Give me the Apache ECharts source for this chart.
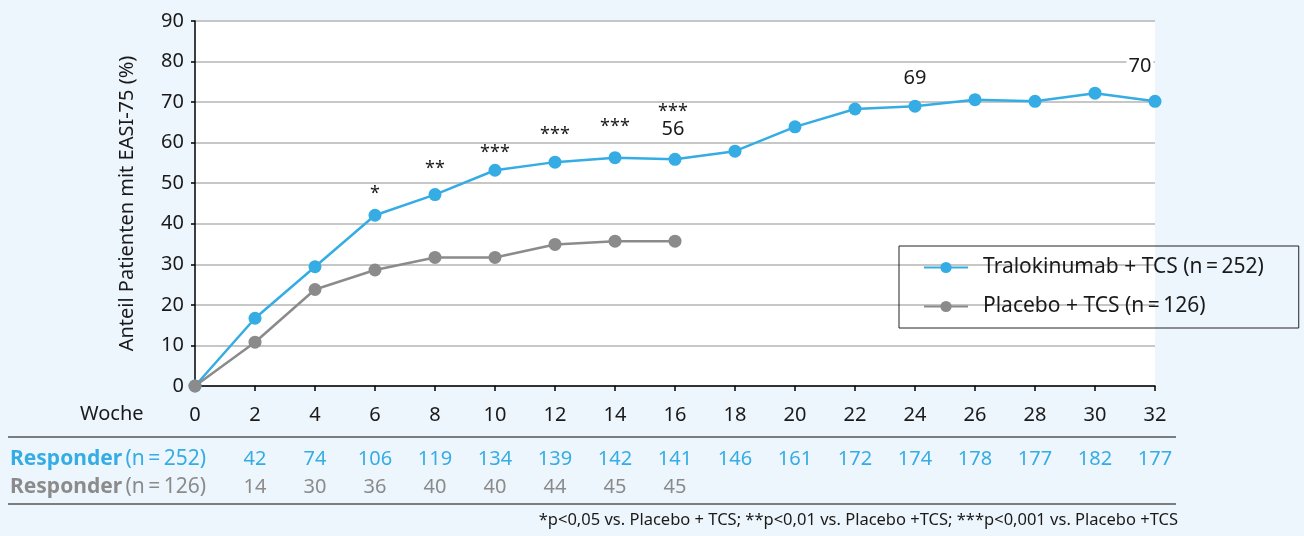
<!DOCTYPE html>
<html>
<head>
<meta charset="utf-8">
<script src="https://cdn.jsdelivr.net/npm/echarts@6/dist/echarts.min.js"></script>
<style>
  html, body { margin: 0; padding: 0; background: #eef6fd; }
  #chart { width: 1304px; height: 536px; }
</style>
</head>
<body>
<div id="chart"></div>
<script>
// Study weeks on the x axis
const weeks = [0, 2, 4, 6, 8, 10, 12, 14, 16, 18, 20, 22, 24, 26, 28, 30, 32];

// Share of patients reaching EASI-75 (%)
const traloPct   = [0, 16.7, 29.4, 42.1, 47.2, 53.2, 55.2, 56.3, 55.9, 57.9, 63.9, 68.3, 69.0, 70.6, 70.2, 72.2, 70.2];
const placeboPct = [0, 10.8, 23.8, 28.6, 31.7, 31.7, 34.9, 35.7, 35.7];

// Number of responders per week
const traloResponders   = [null, 42, 74, 106, 119, 134, 139, 142, 141, 146, 161, 172, 174, 178, 177, 182, 177];
const placeboResponders = [null, 14, 30, 36, 40, 40, 44, 45, 45];

// Significance markers and value callouts on the Tralokinumab line
const significance = ['', '', '', '*', '**', '***', '***', '***', '***', '', '', '', '', '', '', '', ''];
const valueCallouts = ['', '', '', '', '', '', '', '', '56', '', '', '', '69', '', '', '', '70'];

const yTicks = [0, 10, 20, 30, 40, 50, 60, 70, 80, 90];

const seriesNames = ['Tralokinumab + TCS (n\u2009=\u2009252)', 'Placebo + TCS (n\u2009=\u2009126)'];
const footnote = '*p<0,05 vs. Placebo + TCS; **p<0,01 vs. Placebo +TCS; ***p<0,001 vs. Placebo +TCS';

const BLUE = '#35ade4';
const GRAY = '#8b8b8b';
const INK = '#1a1a1a';
const FONT = 'Noto Sans';

// label placement (pixels, relative to the marker) for annotated weeks
const calloutOffsets = {
  6: [0, -15], 8: [0, -19], 10: [0, -11], 12: [0, -21], 14: [0, -24],
  16: [-2, -30], 24: [0, -21], 32: [-15, -29]
};

function traloItem(i) {
  const item = { value: [weeks[i], traloPct[i]] };
  const stars = significance[i];
  const num = valueCallouts[i];
  if (stars || num) {
    let text;
    if (stars && num) text = '{s|' + stars + '}\n{n|' + num + '}';
    else if (stars) text = '{s|' + stars + '}';
    else text = '{n|' + num + '}';
    const off = calloutOffsets[weeks[i]] || [0, -16];
    item.label = {
      show: true,
      position: 'top',
      distance: 0,
      verticalAlign: 'middle',
      offset: off,
      formatter: () => text,
      backgroundColor: weeks[i] === 32 ? '#ffffff' : 'transparent',
      padding: weeks[i] === 32 ? [0, 2, 0, 2] : 0,
      rich: {
        s: { fontFamily: FONT, fontSize: 18, color: INK, lineHeight: 14, align: 'center' },
        n: { fontFamily: FONT, fontSize: 20, color: INK, lineHeight: 22, align: 'center' }
      }
    };
  }
  return item;
}

function countFormatter(counts) {
  return function (v) {
    const i = weeks.indexOf(v);
    return i >= 0 && counts[i] != null ? String(counts[i]) : '';
  };
}

const tableAxis = (offset, counts, color) => ({
  type: 'value', gridIndex: 0, position: 'bottom', offset: offset,
  min: 0, max: 32, interval: 2,
  axisLine: { show: false }, axisTick: { show: false }, splitLine: { show: false },
  axisLabel: {
    margin: 18, fontFamily: FONT, fontSize: 20, color: color,
    formatter: countFormatter(counts)
  }
});

const chart = echarts.init(document.getElementById('chart'), null, { renderer: 'canvas' });

chart.setOption({
  backgroundColor: '#eef6fd',
  animation: false,
  textStyle: { fontFamily: FONT },
  grid: {
    left: 195, right: 149, top: 21, bottom: 150,
    show: true, backgroundColor: '#ffffff', borderWidth: 0
  },
  legend: {
    orient: 'vertical',
    left: 899, top: 246,
    padding: [11, 35, 11, 24],
    itemWidth: 44, itemHeight: 14, itemGap: 18,
    borderColor: '#222', borderWidth: 1,
    backgroundColor: 'transparent',
    textStyle: { fontFamily: FONT, fontSize: 21, color: INK, padding: [0, 0, 0, 10] },
    data: seriesNames
  },
  xAxis: [
    {
      type: 'value', min: 0, max: 32, interval: 2,
      axisLine: { show: true, lineStyle: { color: '#000', width: 1.5 } },
      axisTick: { show: true, length: 5, lineStyle: { color: '#000', width: 1.5 } },
      splitLine: { show: false },
      axisLabel: { margin: 19, fontFamily: FONT, fontSize: 20, color: INK }
    },
    tableAxis(45, traloResponders, BLUE),
    tableAxis(73, placeboResponders, GRAY)
  ],
  yAxis: {
    type: 'value', min: yTicks[0], max: yTicks[yTicks.length - 1], interval: 10,
    name: 'Anteil Patienten mit EASI-75 (%)',
    nameLocation: 'middle', nameGap: 58,
    nameTextStyle: { fontFamily: FONT, fontSize: 20, color: INK },
    axisLine: { show: true, lineStyle: { color: '#000', width: 1.5 } },
    axisTick: { show: true, length: 4, lineStyle: { color: '#000', width: 1.5 } },
    splitLine: { show: true, lineStyle: { color: '#b4b4b4', width: 1.5 } },
    axisLabel: { margin: 11, fontFamily: FONT, fontSize: 20, color: INK }
  },
  series: [
    {
      name: seriesNames[0], type: 'line',
      data: weeks.map((w, i) => traloItem(i)),
      symbol: 'circle', symbolSize: 13,
      lineStyle: { color: BLUE, width: 2.5 },
      itemStyle: { color: BLUE },
      z: 3
    },
    {
      name: seriesNames[1], type: 'line',
      data: placeboPct.map((v, i) => [weeks[i], v]),
      symbol: 'circle', symbolSize: 13,
      lineStyle: { color: GRAY, width: 2.5 },
      itemStyle: { color: GRAY },
      z: 4
    }
  ],
  graphic: [
    { type: 'text', left: 80, top: 404,
      style: { text: 'Woche', font: '20px "Noto Sans"', fill: INK } },
    { type: 'line', shape: { x1: 8, y1: 437, x2: 1176, y2: 437 },
      style: { stroke: '#555', lineWidth: 1.5 } },
    { type: 'text', left: 10, top: 449,
      style: {
        text: '{b|Responder} {r|(n\u2009=\u2009252)}',
        rich: {
          b: { fontFamily: FONT, fontSize: 21, fontWeight: 'bold', fill: BLUE, color: BLUE },
          r: { fontFamily: FONT, fontSize: 21, fill: BLUE, color: BLUE }
        }
      } },
    { type: 'text', left: 10, top: 477,
      style: {
        text: '{b|Responder} {r|(n\u2009=\u2009126)}',
        rich: {
          b: { fontFamily: FONT, fontSize: 21, fontWeight: 'bold', fill: GRAY, color: GRAY },
          r: { fontFamily: FONT, fontSize: 21, fill: GRAY, color: GRAY }
        }
      } },
    { type: 'line', shape: { x1: 8, y1: 504, x2: 1176, y2: 504 },
      style: { stroke: '#555', lineWidth: 1.5 } },
    { type: 'text', right: 126, top: 512,
      style: { text: footnote, font: '16.5px "Noto Sans"', fill: INK } }
  ]
});
</script>
</body>
</html>
